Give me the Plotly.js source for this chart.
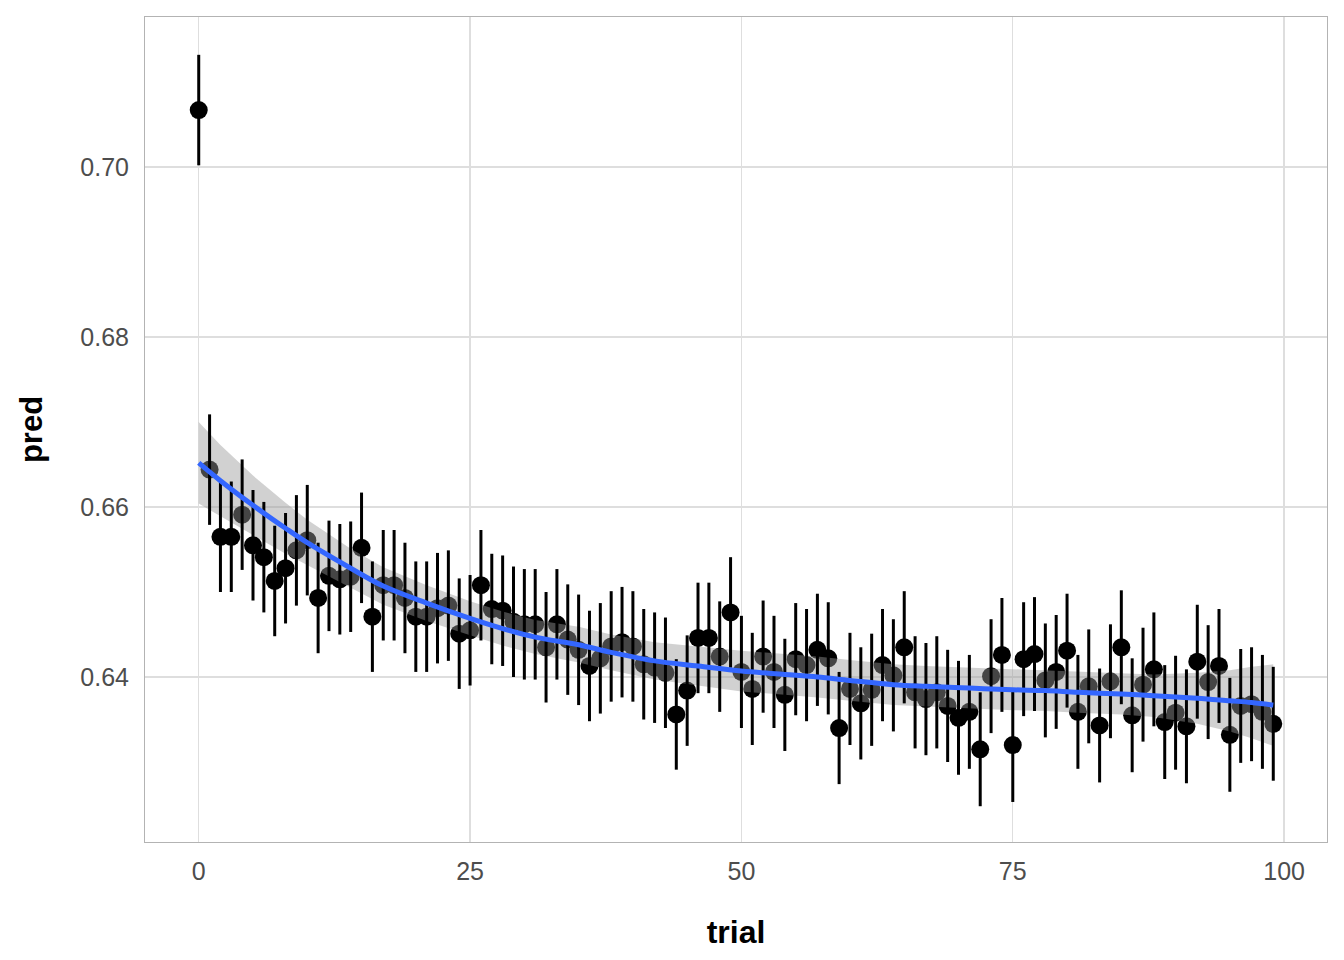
<!DOCTYPE html>
<html>
<head>
<meta charset="utf-8">
<script src="https://cdn.plot.ly/plotly-3.0.1.min.js"></script>
<style>html,body{margin:0;padding:0;background:#fff;}#chart{width:1344px;height:960px;}</style>
</head>
<body>
<div id="chart"></div>
<script>
// trial index 0..99
const trial = [0,1,2,3,4,5,6,7,8,9,10,11,12,13,14,15,16,17,18,19,20,21,22,23,24,25,26,27,28,29,30,31,32,33,34,35,36,37,38,39,40,41,42,43,44,45,46,47,48,49,50,51,52,53,54,55,56,57,58,59,60,61,62,63,64,65,66,67,68,69,70,71,72,73,74,75,76,77,78,79,80,81,82,83,84,85,86,87,88,89,90,91,92,93,94,95,96,97,98,99];
// mean prediction per trial
const pred = [0.7067,0.6644,0.6565,0.6565,0.6591,0.6555,0.6541,0.6513,0.6528,0.6549,
              0.6561,0.6493,0.6519,0.6515,0.6518,0.6552,0.6471,0.6508,0.6508,0.6493,
              0.6471,0.6471,0.6481,0.6484,0.6451,0.6455,0.6508,0.6480,0.6478,0.6465,
              0.6462,0.6462,0.6435,0.6462,0.6444,0.6432,0.6413,0.6422,0.6436,0.6441,
              0.6436,0.6415,0.6411,0.6405,0.6356,0.6384,0.6446,0.6446,0.6424,0.6476,
              0.6406,0.6386,0.6424,0.6406,0.6379,0.6421,0.6414,0.6432,0.6422,0.6340,
              0.6386,0.6369,0.6385,0.6414,0.6402,0.6435,0.6382,0.6374,0.6382,0.6366,
              0.6352,0.6359,0.6315,0.6401,0.6426,0.6320,0.6421,0.6427,0.6396,0.6406,
              0.6431,0.6359,0.6389,0.6343,0.6395,0.6435,0.6355,0.6391,0.6409,0.6347,
              0.6358,0.6342,0.6418,0.6394,0.6413,0.6332,0.6366,0.6368,0.6359,0.6345];
// half-length of error bars
const errHalf = [0.0065,0.0065,0.0065,0.0065,0.0065,0.0065,0.0065,0.0065,0.0065,0.0065,
                 0.0065,0.0065,0.0065,0.0065,0.0065,0.0065,0.0065,0.0065,0.0065,0.0065,
                 0.0065,0.0065,0.0065,0.0065,0.0065,0.0065,0.0065,0.0065,0.0065,0.0065,
                 0.0065,0.0065,0.0065,0.0065,0.0065,0.0065,0.0065,0.0065,0.0065,0.0065,
                 0.0065,0.0065,0.0065,0.0065,0.0065,0.0065,0.0065,0.0065,0.0065,0.0065,
                 0.0066,0.0066,0.0066,0.0066,0.0066,0.0066,0.0066,0.0066,0.0066,0.0066,
                 0.0066,0.0066,0.0066,0.0066,0.0066,0.0066,0.0066,0.0066,0.0066,0.0066,
                 0.0067,0.0067,0.0067,0.0067,0.0067,0.0067,0.0067,0.0067,0.0067,0.0067,
                 0.0067,0.0067,0.0067,0.0067,0.0067,0.0067,0.0067,0.0067,0.0067,0.0067,
                 0.0067,0.0067,0.0067,0.0067,0.0067,0.0067,0.0067,0.0067,0.0067,0.0067];
// loess smooth and its standard-error band half-width
const smoothX  = [0,2,5,8,10,14,17,21,25,28,31,35,38,42,46,50,54,57,60,64,67,71,75,78,81,85,88,92,95,97,99];
const smoothY  = [0.6652,0.6631,0.6602,0.6575,0.6558,0.6528,0.6507,0.6487,0.6469,0.6457,0.6447,0.6438,0.6429,0.6419,0.6413,0.6407,0.6403,0.6400,0.6396,0.6391,0.6389,0.6387,0.6385,0.6384,0.6382,0.6380,0.6378,0.6375,0.6372,0.6370,0.6367];
const smoothSE = [0.0048,0.0042,0.0035,0.0030,0.0027,0.0023,0.0022,0.0021,0.0020,0.0020,0.0020,0.0021,0.0021,0.0022,0.0023,0.0024,0.0024,0.0024,0.0024,0.0024,0.0024,0.0024,0.0024,0.0024,0.0024,0.0024,0.0025,0.0030,0.0036,0.0042,0.0048];

const upper = smoothY.map((v,i)=>v+smoothSE[i]);
const lower = smoothY.map((v,i)=>v-smoothSE[i]);
const bandX = smoothX.concat(smoothX.slice().reverse());
const bandY = upper.concat(lower.slice().reverse());

const traces = [
  {x: trial, y: pred, type:'scatter', mode:'markers',
   marker:{color:'#000000', size:18}, hoverinfo:'skip', showlegend:false},
  {x: bandX, y: bandY, type:'scatter', mode:'lines', fill:'toself',
   fillcolor:'rgba(153,153,153,0.45)', line:{width:0, color:'rgba(0,0,0,0)'},
   hoverinfo:'skip', showlegend:false},
  {x: trial, y: pred, type:'scatter', mode:'markers',
   marker:{color:'rgba(0,0,0,0)', size:1},
   error_y:{type:'data', array: errHalf, visible:true, color:'#000000', thickness:3, width:0},
   hoverinfo:'skip', showlegend:false},
  {x: smoothX, y: smoothY, type:'scatter', mode:'lines',
   line:{color:'#3366FF', width:5, shape:'spline'}, hoverinfo:'skip', showlegend:false}
];

const layout = {
  width:1344, height:960,
  paper_bgcolor:'#ffffff', plot_bgcolor:'#ffffff',
  margin:{l:145, r:17, t:17, b:118},
  font:{family:'Liberation Sans, Arial, sans-serif'},
  showlegend:false,
  xaxis:{
    range:[-4.95,103.95], tickvals:[0,25,50,75,100], ticktext:['0','25','50','75','100'],
    showgrid:true, gridcolor:'#DEDEDE', gridwidth:1.3, zeroline:false,
    showline:true, mirror:true, linecolor:'#B3B3B3', linewidth:1,
    ticks:'', ticklabelstandoff:7,
    tickfont:{size:25, color:'#4D4D4D'},
    title:{text:'<b>trial</b>', font:{size:32, color:'#000000'}, standoff:36},
    automargin:false
  },
  yaxis:{
    range:[0.62059,0.71765], tickvals:[0.64,0.66,0.68,0.70], ticktext:['0.64','0.66','0.68','0.70'],
    showgrid:true, gridcolor:'#DEDEDE', gridwidth:1.3, zeroline:false,
    showline:true, mirror:true, linecolor:'#B3B3B3', linewidth:1,
    ticks:'', ticklabelstandoff:10,
    tickfont:{size:25, color:'#4D4D4D'},
    title:{text:'<b>pred</b>', font:{size:31, color:'#000000'}, standoff:28},
    automargin:false
  }
};

Plotly.newPlot('chart', traces, layout, {staticPlot:true, displayModeBar:false});
</script>
</body>
</html>
